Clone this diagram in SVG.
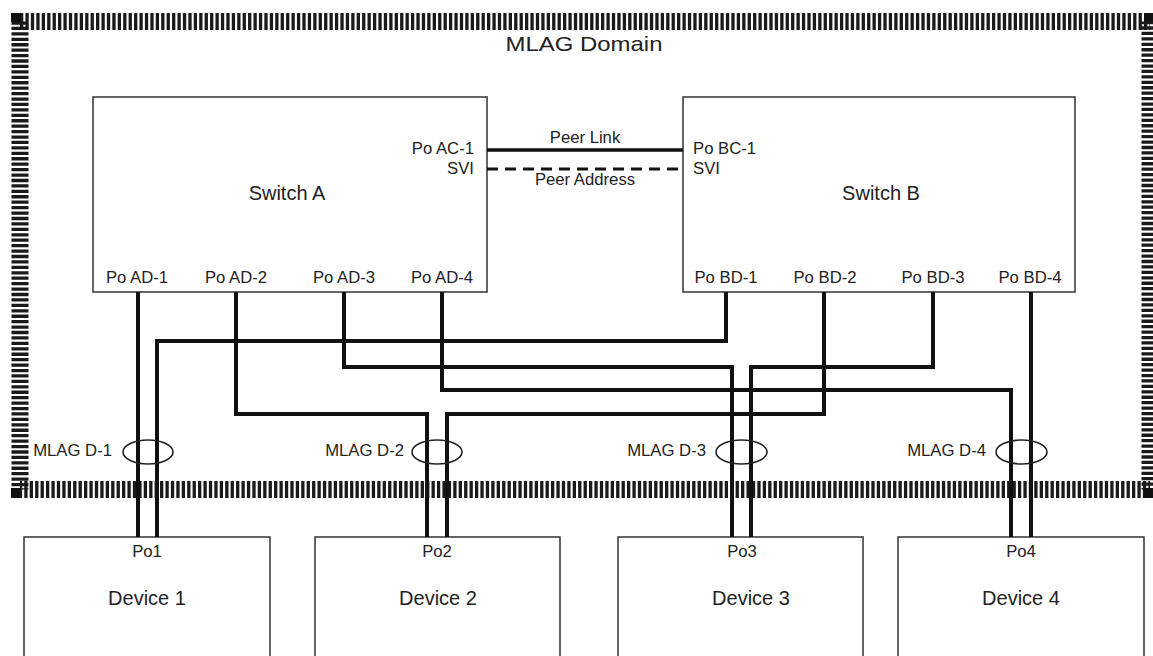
<svg xmlns="http://www.w3.org/2000/svg" width="1153" height="656" viewBox="0 0 1153 656">
<style>
text{font-family:"Liberation Sans",Arial,Helvetica,sans-serif;fill:#222}
.lbl{font-size:16.7px}
.big{font-size:20px}
.box{fill:#fff;stroke:#333;stroke-width:1.5}
.wire{fill:none;stroke:#111;stroke-width:4;stroke-linejoin:miter}
.ring{fill:none;stroke:#222;stroke-width:1.6}
.mid{text-anchor:middle}
.end{text-anchor:end}
</style>
<rect width="1153" height="656" fill="#fff"/>
<g id="mlag-domain">
<rect x="20" y="21.5" width="1130" height="468" fill="none" stroke="#1a1a1a" stroke-width="17" stroke-dasharray="3.3 2.13"/>
<rect x="11" y="13" width="9" height="9" fill="#111"/>
<rect x="1144" y="13" width="9" height="9" fill="#111"/>
<rect x="11" y="488" width="9" height="10" fill="#111"/>
<rect x="1144" y="488" width="9" height="10" fill="#111"/>
<text x="584" y="51" class="mid" font-size="21" textLength="157" lengthAdjust="spacingAndGlyphs">MLAG Domain</text>
</g>
<g id="switch-a">
<rect class="box" x="93" y="97" width="394" height="195"/>
<text x="287" y="200" class="big mid">Switch A</text>
<text x="474" y="154" class="lbl end">Po AC-1</text>
<text x="474" y="174" class="lbl end">SVI</text>
<text x="137" y="283" class="lbl mid">Po AD-1</text>
<text x="236" y="283" class="lbl mid">Po AD-2</text>
<text x="344" y="283" class="lbl mid">Po AD-3</text>
<text x="442" y="283" class="lbl mid">Po AD-4</text>
</g>
<g id="switch-b">
<rect class="box" x="683" y="97" width="392" height="195"/>
<text x="881" y="200" class="big mid">Switch B</text>
<text x="693" y="154" class="lbl">Po BC-1</text>
<text x="693" y="174" class="lbl">SVI</text>
<text x="726" y="283" class="lbl mid">Po BD-1</text>
<text x="825" y="283" class="lbl mid">Po BD-2</text>
<text x="933" y="283" class="lbl mid">Po BD-3</text>
<text x="1030" y="283" class="lbl mid">Po BD-4</text>
</g>
<g id="device-1">
<rect class="box" x="24" y="537" width="246" height="130"/>
<text x="147" y="557" class="lbl mid">Po1</text>
<text x="147" y="605" class="big mid">Device 1</text>
</g>
<g id="device-2">
<rect class="box" x="315" y="537" width="245" height="130"/>
<text x="437" y="557" class="lbl mid">Po2</text>
<text x="438" y="605" class="big mid">Device 2</text>
</g>
<g id="device-3">
<rect class="box" x="618" y="537" width="245" height="130"/>
<text x="742" y="557" class="lbl mid">Po3</text>
<text x="751" y="605" class="big mid">Device 3</text>
</g>
<g id="device-4">
<rect class="box" x="898" y="537" width="246" height="130"/>
<text x="1021" y="557" class="lbl mid">Po4</text>
<text x="1021" y="605" class="big mid">Device 4</text>
</g>
<g id="connectors">
<line x1="487" y1="150" x2="683" y2="150" stroke="#111" stroke-width="3.5"/>
<line x1="487" y1="169" x2="683" y2="169" stroke="#111" stroke-width="3" stroke-dasharray="11 7"/>
<text x="585" y="143" class="lbl mid">Peer Link</text>
<text x="585" y="185" class="lbl mid">Peer Address</text>
<path class="wire" d="M138 292V537"/>
<path class="wire" d="M726 292V341H157V537"/>
<path class="wire" d="M236 292V414H427V537"/>
<path class="wire" d="M824 292V414H447V537"/>
<path class="wire" d="M344 292V367H732V537"/>
<path class="wire" d="M933 292V367H751V537"/>
<path class="wire" d="M442 292V390H1011V537"/>
<path class="wire" d="M1031 292V537"/>
</g>
<g id="mlag-groups">
<ellipse class="ring" cx="148" cy="452" rx="25" ry="12"/>
<ellipse class="ring" cx="437" cy="452" rx="25" ry="12"/>
<ellipse class="ring" cx="741.5" cy="452" rx="25.5" ry="12"/>
<ellipse class="ring" cx="1021.5" cy="452" rx="25.5" ry="12"/>
<text x="112" y="456" class="lbl end">MLAG D-1</text>
<text x="404" y="456" class="lbl end">MLAG D-2</text>
<text x="706" y="456" class="lbl end">MLAG D-3</text>
<text x="986" y="456" class="lbl end">MLAG D-4</text>
</g>
</svg>
